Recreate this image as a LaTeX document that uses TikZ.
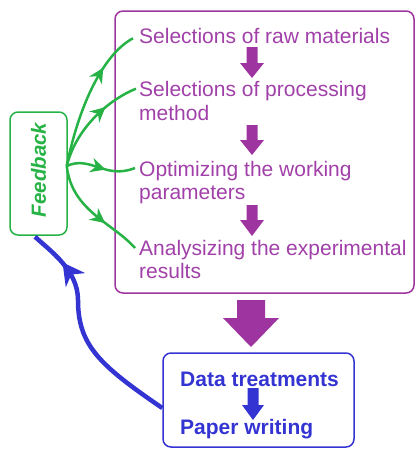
\documentclass[tikz,border=0pt]{standalone}
\usepackage{fontspec}
\setmainfont{Liberation Sans}
\usetikzlibrary{arrows.meta,decorations.markings,calc}
\definecolor{pur}{RGB}{158,52,160}
\definecolor{purtext}{RGB}{160,64,168}
\definecolor{grn}{RGB}{38,178,68}
\definecolor{blu}{RGB}{52,52,210}
\begin{document}
\begin{tikzpicture}[x=1pt,y=-1pt,
  ptext/.style={anchor=base west,inner sep=0pt,text=purtext,font=\fontsize{21}{23.3}\selectfont},
  btext/.style={anchor=base west,inner sep=0pt,text=blu,font=\fontsize{21}{23.3}\selectfont\bfseries},
  pbox/.style={draw=pur,line width=1.5pt,rounded corners=8pt,minimum width=299pt,minimum height=282pt,inner sep=0pt},
  bbox/.style={draw=blu,line width=1.5pt,rounded corners=8pt,minimum width=191pt,minimum height=94pt,inner sep=0pt},
  fbox/.style={draw=grn,line width=1.5pt,rounded corners=8pt,minimum width=57pt,minimum height=123pt,inner sep=0pt},
  ghead/.style={decoration={markings,mark=at position #1 with {\fill[grn] (5pt,0pt) -- (-10pt,7.5pt) -- (-5pt,0pt) -- (-10pt,-7.5pt) -- cycle;}}},
  gline/.style={draw=grn,line width=2.5pt,postaction={decorate},ghead=#1},
  gline/.default=0.55,
  bline/.style={draw=blu,line width=4.5pt,postaction={decorate},decoration={markings,mark=at position 0.8 with {\fill[blu] (7pt,0pt) -- (-15pt,12pt) -- (-8pt,0pt) -- (-15pt,-12pt) -- cycle;}}},
]
\useasboundingbox (0,0) rectangle (416,450);
% boxes
\node[pbox] (pb) at (264.5,152) {};
\node[bbox] (bb) at (258.5,400) {};
\node[fbox] (fb) at (38.5,173.5) {};
\node[rotate=90,text=grn,font=\fontsize{20.5}{22}\selectfont\bfseries\itshape,inner sep=0pt] (fbt) at (38.5,170) {Feedback};
% texts
\node[ptext] (t1) at (139,43.3) {Selections of raw materials};
\node[ptext] (t2) at (139,96.7) {Selections of processing};
\node[ptext] (t2b) at (139,120) {method};
\node[ptext] (t3) at (139,176) {Optimizing the working};
\node[ptext] (t3b) at (139,199.3) {parameters};
\node[ptext] (t4) at (139,255) {Analysizing the experimental};
\node[ptext] (t4b) at (139,278) {results};
\node[btext] (d1) at (180,386.7) {Data treatments};
\node[btext] (d2) at (180,434.3) {Paper writing};
% purple block arrows
\fill[pur] (246.5,47) -- (257.5,47) -- (257.5,63) -- (264,63) -- (252,78) -- (240,63) -- (246.5,63) -- cycle;
\fill[pur] (246.5,125) -- (257.5,125) -- (257.5,140) -- (264,140) -- (252,155) -- (240,140) -- (246.5,140) -- cycle;
\fill[pur] (246.5,205) -- (257.5,205) -- (257.5,220) -- (264,220) -- (252,236) -- (240,220) -- (246.5,220) -- cycle;
\fill[pur] (237,300) -- (265,300) -- (265,318) -- (279,318) -- (251,347) -- (223,318) -- (237,318) -- cycle;
% blue block arrow
\fill[blu] (247.5,388) -- (258.5,388) -- (258.5,405) -- (264,405) -- (253,420) -- (242,405) -- (247.5,405) -- cycle;
% green feedback arrows
\coordinate (gs) at ($(fb.east)+(-1,-7.5)$);
\path[gline=0.68] (gs) .. controls +(12,-60) and +(-30,16) .. ($(t1.base west)+(-6,-5)$);
\path[gline=0.62] (gs) .. controls +(10,-40) and +(-25,10) .. ($(t2.base west)+(-3,-8)$);
\path[gline=0.5] (gs) .. controls +(24,-11) and +(-30,12) .. ($(t3.base west)+(-4,-8)$);
\path[gline=0.6] (gs) .. controls +(5,45) and +(-22,-25) .. ($(t4.base west)+(-4,-7)$);
% blue return arrow
\coordinate (bm) at (78,300);
\path[bline] ($(bb.west)+(0,8)$) .. controls +(-63,-43) and +(0,45) .. (bm) .. controls +(0,-30) and +(15,14) .. ($(fb.south)+(-3.5,1)$);
\end{tikzpicture}
\end{document}
